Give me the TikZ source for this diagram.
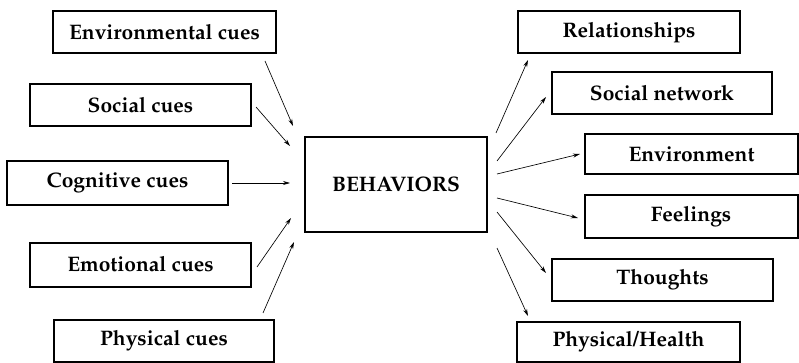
\documentclass[tikz,border=0pt]{standalone}
\usepackage[T1]{fontenc}
\usepackage{mathpazo}
\usetikzlibrary{arrows.meta}
\begin{document}
\begin{tikzpicture}
        [x=1pt, y=-1pt,
        box/.style={draw, line width=2pt, minimum width=221pt, minimum height=42pt, inner sep=0pt, font=\fontsize{21}{24}\selectfont\bfseries},
        arr/.style={line width=0.65pt, -{Stealth[length=7pt, width=4pt]}}]
        \useasboundingbox (0,0) rectangle (799,363);
        % causes
        \node[box, minimum width=223pt] (envCue) at (164.5,32.5) {Environmental cues};
        \node[box] (socCue) at (140.5,105.5) {Social cues};
        \node[box, minimum height=44pt] (cogCue) at (117.5,183) {Cognitive cues};
        \node[box, minimum height=44pt] (emoCue) at (140.5,264.5) {Emotional cues};
        \node[box, minimum width=220pt] (phyCue) at (164,340.5) {Physical cues};
        % centre
        \node[box, minimum width=182pt, minimum height=95pt] (beh) at (396,184.5) {BEHAVIORS};
        % effects
        \node[box, minimum width=222pt] (rel) at (629,32.5) {Relationships};
        \node[box, minimum width=220pt] (net) at (662,93.5) {Social network};
        \node[box, minimum width=213pt, minimum height=40pt] (envr) at (691.5,154) {Environment};
        \node[box, minimum width=213pt] (feel) at (691,216.5) {Feelings};
        \node[box] (thou) at (662.5,280) {Thoughts};
        \node[box, minimum width=223pt, minimum height=40pt] (hlth) at (628.5,341.5) {Physical/Health};

        \coordinate (a1) at (265,61);  \coordinate (b1) at (293,126);
        \coordinate (a2) at (256,107); \coordinate (b2) at (290,146);
        \coordinate (a3) at (232,183); \coordinate (b3) at (290,183);
        \coordinate (a4) at (257,267); \coordinate (b4) at (291,218);
        \coordinate (a5) at (263,313); \coordinate (b5) at (294,242);

        \coordinate (c1) at (496,133); \coordinate (d1) at (528,60);
        \coordinate (c2) at (497,161); \coordinate (d2) at (546,97);
        \coordinate (c3) at (497,174); \coordinate (d3) at (580,154);
        \coordinate (c4) at (497,198); \coordinate (d4) at (578,218);
        \coordinate (c5) at (497,212); \coordinate (d5) at (546,273);
        \coordinate (c6) at (497,248); \coordinate (d6) at (528,316);

        \foreach \i in {1,...,5}
            \draw[arr] (a\i) -- (b\i);
        \foreach \i in {1,...,6}
            \draw[arr] (c\i) -- (d\i);
    \end{tikzpicture}
\end{document}
